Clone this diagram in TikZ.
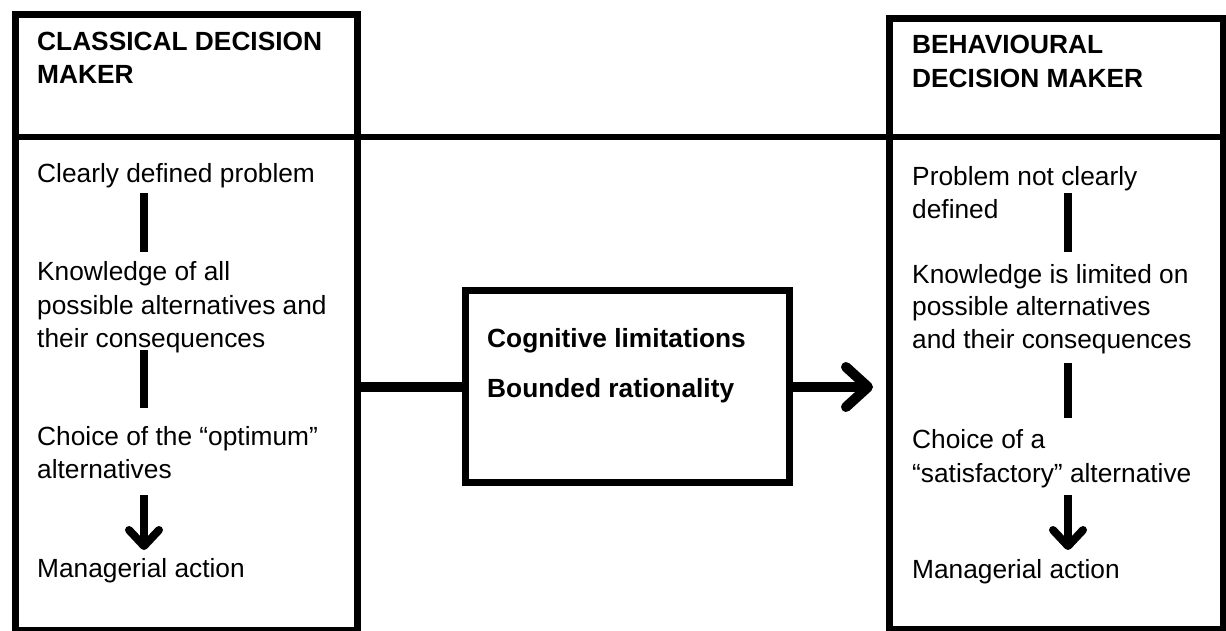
\documentclass[tikz,border=0pt]{standalone}
\usepackage{fontspec}
\setmainfont{Liberation Sans}
\usetikzlibrary{arrows.meta}
\begin{document}
\begin{tikzpicture}[x=1pt,y=-1pt,
  txt/.style={anchor=base west, inner sep=0pt, font=\fontsize{26.3}{33}\selectfont},
  hdr/.style={anchor=base west, inner sep=0pt, font=\fontsize{26.3}{33}\selectfont\bfseries},
  frame/.style={draw, line width=6.5pt, inner sep=0pt, anchor=north west},
  link/.style={line width=8pt},
  bar/.style={line width=10pt},
  downarrow/.style={line width=8pt, -{Straight Barb[length=16pt,width=30pt,round]}},
  sidearrow/.style={line width=10pt, -{Straight Barb[length=22pt,width=40pt,round]}}
]
\useasboundingbox (0,0) rectangle (1226,630);
\fill[white] (0,0) rectangle (1226,630);

% the three boxes
\node[frame, minimum width=342pt, minimum height=616pt] (classical) at (12,11) {};
\node[frame, minimum width=334pt, minimum height=611pt] (behavioural) at (886,15) {};
\node[frame, minimum width=324pt, minimum height=192pt] (bounded) at (462,287) {};

% header rule running across both boxes
\coordinate (rule) at (0,137);
\draw[line width=6pt] (classical.west |- rule) -- (behavioural.east |- rule);

% classical decision maker
\node[hdr] (ch1) at (37,50) {CLASSICAL DECISION};
\node[hdr] (ch2) at (37,83) {MAKER};
\node[txt] (cp1) at (37,182) {Clearly defined problem};
\node[txt] (ck1) at (37,280) {Knowledge of all};
\node[txt] (ck2) at (37,314) {possible alternatives and};
\node[txt] (ck3) at (37,347) {their consequences};
\node[txt] (cc1) at (37,445) {Choice of the “optimum”};
\node[txt] (cc2) at (37,478) {alternatives};
\node[txt] (cm1) at (37,577) {Managerial action};

\coordinate (cs1) at (144,193);
\coordinate (ce1) at (144,252);
\coordinate (cs2) at (144,350);
\coordinate (ce2) at (144,408);
\coordinate (cs3) at (144,495);
\coordinate (ce3) at (144,550);
\draw[link] (cs1) -- (ce1);
\draw[link] (cs2) -- (ce2);
\draw[downarrow] (cs3) -- (ce3);

% behavioural decision maker
\node[hdr] (bh1) at (912,53) {BEHAVIOURAL};
\node[hdr] (bh2) at (912,87) {DECISION MAKER};
\node[txt] (bp1) at (912,185) {Problem not clearly};
\node[txt] (bp2) at (912,218) {defined};
\node[txt] (bk1) at (912,283) {Knowledge is limited on};
\node[txt] (bk2) at (912,315) {possible alternatives};
\node[txt] (bk3) at (912,348) {and their consequences};
\node[txt] (bc1) at (912,448) {Choice of a};
\node[txt] (bc2) at (912,482) {“satisfactory” alternative};
\node[txt] (bm1) at (912,578) {Managerial action};

\coordinate (bs1) at (1068,193);
\coordinate (be1) at (1068,252);
\coordinate (bs2) at (1068,363);
\coordinate (be2) at (1068,418);
\coordinate (bs3) at (1068,495);
\coordinate (be3) at (1068,550);
\draw[link] (bs1) -- (be1);
\draw[link] (bs2) -- (be2);
\draw[downarrow] (bs3) -- (be3);

% bounded rationality in the middle
\node[hdr] (mid1) at (487,347) {Cognitive limitations};
\node[hdr] (mid2) at (487,397) {Bounded rationality};

\coordinate (join) at (354,387);
\coordinate (tip) at (873,387);
\draw[bar] (join) -- (bounded.west |- join);
\draw[sidearrow] (bounded.east |- join) -- (tip);
\end{tikzpicture}
\end{document}
